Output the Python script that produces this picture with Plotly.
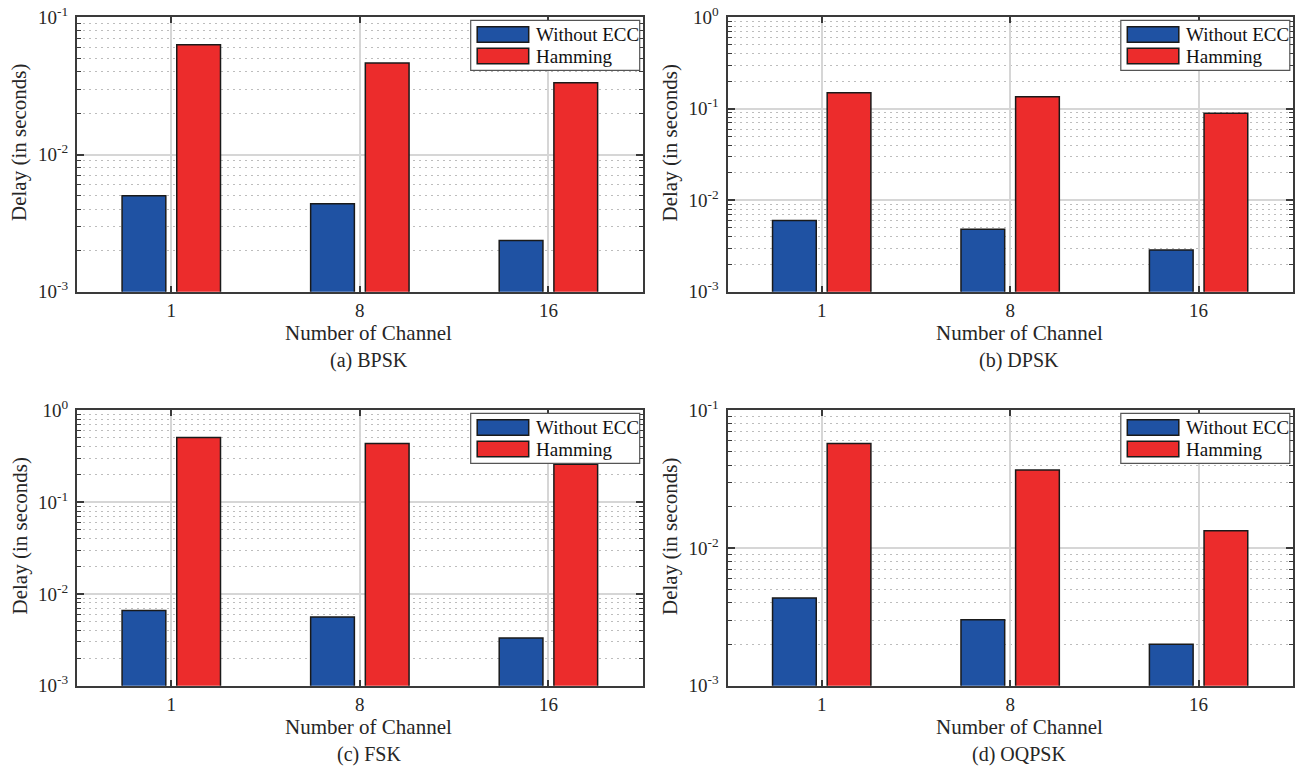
import plotly.graph_objects as go

# ---------------- data ----------------
channels = ["1", "8", "16"]
series_names = ["Without ECC", "Hamming"]

bpsk_without = [0.0050, 0.00437, 0.00236]
bpsk_hamming = [0.0632, 0.0465, 0.0333]
dpsk_without = [0.0060, 0.00481, 0.00286]
dpsk_hamming = [0.150, 0.135, 0.0891]
fsk_without = [0.0066, 0.0056, 0.0033]
fsk_hamming = [0.505, 0.434, 0.258]
oqpsk_without = [0.00434, 0.00301, 0.0020]
oqpsk_hamming = [0.0573, 0.0369, 0.01334]

captions = ["(a) BPSK", "(b) DPSK", "(c) FSK", "(d) OQPSK"]
y_exponents = [[-3, -2, -1], [-3, -2, -1, 0], [-3, -2, -1, 0], [-3, -2, -1]]
x_title = "Number of Channel"
y_title = "Delay (in seconds)"

panel_series = [
    (bpsk_without, bpsk_hamming),
    (dpsk_without, dpsk_hamming),
    (fsk_without, fsk_hamming),
    (oqpsk_without, oqpsk_hamming),
]

# ---------------- style ----------------
W, H = 1296, 769
FONT = "Liberation Serif"
TXT = "#262626"
AX = "#3a3a3a"
COLORS = ["#1F52A3", "#EC2C2C"]
GRID = "#d6d6d6"
MINOR_GRID = "#bdbdbd"

# plot-area boxes in pixels: left, right, top, bottom
boxes = [
    (77, 642.7, 17.3, 291.7),
    (727.5, 1292.8, 17.3, 291.7),
    (77, 642.7, 410.3, 685.7),
    (727.5, 1292.8, 410.3, 685.7),
]


def px(x):
    return x / W


def py(y):
    return 1 - y / H


fig = go.Figure()
layout = dict(
    width=W, height=H,
    margin=dict(l=0, r=0, t=0, b=0, autoexpand=False),
    paper_bgcolor="white", plot_bgcolor="white",
    barmode="group", bargap=0.42, bargroupgap=0.2,
    showlegend=False,
    font=dict(family=FONT, color=TXT, size=19),
)
shapes = []
annotations = []

for i, ((s_without, s_hamming), (L, R, T, B)) in enumerate(zip(panel_series, boxes)):
    sfx = "" if i == 0 else str(i + 1)
    xa, ya = "x" + sfx, "y" + sfx
    for name, vals, col in zip(series_names, (s_without, s_hamming), COLORS):
        fig.add_trace(go.Bar(
            x=channels, y=vals, name=name, xaxis=xa, yaxis=ya,
            marker=dict(color=col, line=dict(color="#1a1a1a", width=1.5)),
        ))
    exps = y_exponents[i]
    layout["xaxis" + sfx] = dict(
        domain=[px(L), px(R)], anchor=ya, type="category",
        categoryorder="array", categoryarray=channels,
        range=[-0.5, len(channels) - 0.5],
        showline=True, linecolor=AX, linewidth=2, mirror="allticks",
        ticks="inside", ticklen=6, tickwidth=1.5, tickcolor=AX,
        showgrid=True, gridcolor=GRID, gridwidth=1.6,
        tickfont=dict(size=19, family=FONT, color=TXT),
        automargin=False, ticklabeloverflow="allow",
        zeroline=False, fixedrange=True,
    )
    layout["yaxis" + sfx] = dict(
        domain=[py(B), py(T)], anchor=xa, type="log",
        range=[exps[0], exps[-1]],
        tickmode="array",
        tickvals=[10.0 ** e for e in exps],
        ticktext=["10<sup>%d</sup>" % e for e in exps],
        showline=True, linecolor=AX, linewidth=2, mirror="allticks",
        ticks="inside", ticklen=7, tickwidth=1.5, tickcolor=AX,
        ticklabelstandoff=3,
        showgrid=True, gridcolor=GRID, gridwidth=1.6,
        minor=dict(tickmode="linear", dtick="D1", ticks="inside", ticklen=4,
                   tickcolor=AX, tickwidth=1.2, showgrid=True,
                   gridcolor=MINOR_GRID, griddash="2px,4px", gridwidth=1.2),
        tickfont=dict(size=19, family=FONT, color=TXT),
        automargin=False, ticklabeloverflow="allow",
        zeroline=False, fixedrange=True,
    )

    cx = (L + R) / 2 + 9
    annotations.append(dict(text=x_title, x=px(cx), y=py(B + 41.5), xref="paper", yref="paper",
                            showarrow=False, font=dict(size=21, family=FONT, color=TXT),
                            xanchor="center", yanchor="middle"))
    annotations.append(dict(text=captions[i], x=px(cx), y=py(B + 68.5), xref="paper", yref="paper",
                            showarrow=False, font=dict(size=20, family=FONT, color=TXT),
                            xanchor="center", yanchor="middle"))
    annotations.append(dict(text=y_title, x=px(L - 58), y=py((T + B) / 2 - 11.5), xref="paper",
                            yref="paper", showarrow=False, textangle=-90,
                            font=dict(size=21, family=FONT, color=TXT),
                            xanchor="center", yanchor="middle"))

    # legend box (drawn by hand so that the patches match the original's shape)
    bl, br, bt, bb = R - 172, R - 3, T + 3, T + 53
    shapes.append(dict(type="rect", xref="paper", yref="paper",
                       x0=px(bl), x1=px(br), y0=py(bb), y1=py(bt),
                       fillcolor="white", line=dict(color="#555555", width=1.2), layer="above"))
    for j, (name, col) in enumerate(zip(series_names, COLORS)):
        t0 = T + 9.5 + j * 21.5
        shapes.append(dict(type="rect", xref="paper", yref="paper",
                           x0=px(bl + 6.5), x1=px(bl + 58), y0=py(t0 + 15.5), y1=py(t0),
                           fillcolor=col, line=dict(color="#1a1a1a", width=1.5), layer="above"))
        annotations.append(dict(text=name, x=px(bl + 63), y=py(t0 + 8), xref="paper", yref="paper",
                                showarrow=False, xanchor="left", yanchor="middle",
                                font=dict(size=19, family=FONT, color="#111111")))

layout["shapes"] = shapes
layout["annotations"] = annotations
fig.update_layout(**layout)
fig.write_html(
    "out.html",
    config={"displayModeBar": False, "staticPlot": False},
    post_script="document.body.style.margin='0px';document.body.style.overflow='hidden';",
)
